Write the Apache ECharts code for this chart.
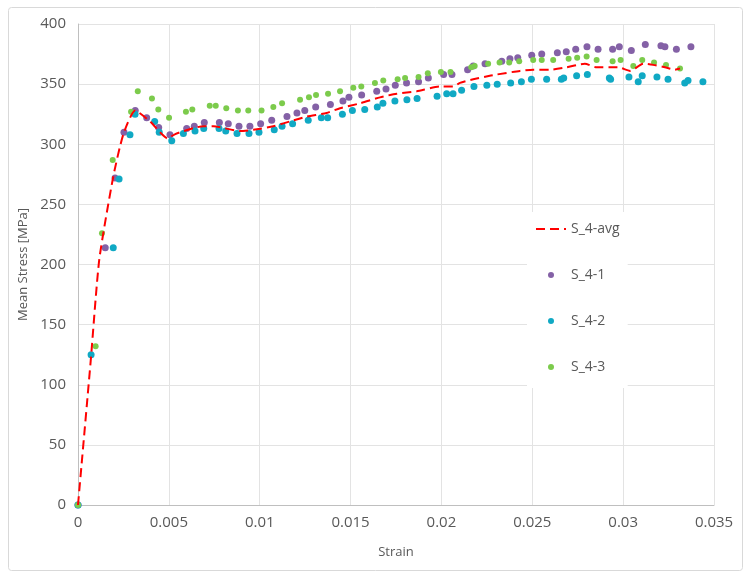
<!DOCTYPE html>
<html>
<head>
  <meta charset="utf-8">
  <title>Mean Stress vs Strain</title>
  <script src="https://cdn.jsdelivr.net/npm/echarts/dist/echarts.min.js"></script>
  <style>
    html, body { margin: 0; padding: 0; background: #fff; }
    #main { width: 751px; height: 579px; }
  </style>
</head>
<body>
<div id="main"></div>
<script>
  // [strain, mean stress MPa]
  const avgData = [
    [0, 0], [0.0007, 120], [0.00117, 204], [0.00194, 273], [0.00249, 308], [0.00315, 328],
    [0.00396, 319], [0.00451, 310], [0.00491, 305], [0.00543, 309], [0.0069, 315], [0.00745, 315],
    [0.00891, 311], [0.00965, 312], [0.01075, 315], [0.01167, 319], [0.01258, 323], [0.01368, 326],
    [0.01442, 330], [0.01552, 334], [0.01662, 339], [0.01754, 342], [0.01864, 344], [0.01992, 348],
    [0.02065, 348], [0.02102, 351], [0.02175, 354], [0.02266, 357], [0.02304, 358], [0.02432, 361],
    [0.02505, 362], [0.02597, 362], [0.02689, 364], [0.02789, 367], [0.02854, 364], [0.02928, 364],
    [0.02973, 364], [0.03038, 361], [0.03111, 367], [0.03166, 366], [0.0323, 364], [0.03285, 362],
    [0.03313, 363]
  ];

  const s1Data = [
    [0, 0], [0.0015, 214], [0.00204, 272], [0.00253, 310], [0.00315, 328], [0.00378, 322],
    [0.00444, 314], [0.00506, 308], [0.00598, 313], [0.0064, 315], [0.00695, 318], [0.00778, 318],
    [0.00827, 317], [0.00886, 315], [0.00946, 315], [0.01005, 317], [0.01066, 320], [0.0115, 323],
    [0.01205, 326], [0.01248, 328], [0.01308, 331], [0.01389, 333], [0.01458, 336], [0.01491, 339],
    [0.01561, 341], [0.01644, 344], [0.01695, 346], [0.01746, 349], [0.01808, 351], [0.01874, 352],
    [0.01928, 355], [0.02012, 358], [0.02058, 358], [0.02144, 362], [0.02175, 365], [0.0224, 367],
    [0.02332, 369], [0.02377, 371], [0.0242, 372], [0.02497, 374], [0.02552, 375], [0.02638, 376],
    [0.02687, 377], [0.02739, 379], [0.02801, 381], [0.02862, 379], [0.02942, 379], [0.02979, 381],
    [0.03045, 378], [0.03122, 383], [0.03208, 382], [0.0323, 381], [0.03293, 379], [0.03373, 381]
  ];

  const s2Data = [
    [0, 0], [0.00072, 125], [0.00194, 214], [0.00226, 271], [0.00286, 308], [0.00314, 325],
    [0.00422, 319], [0.00447, 310], [0.00516, 303], [0.0058, 309], [0.00644, 311], [0.00692, 313],
    [0.00776, 313], [0.00813, 311], [0.00875, 309], [0.00941, 309], [0.00996, 310], [0.0108, 312],
    [0.01123, 315], [0.01181, 317], [0.01267, 320], [0.01339, 322], [0.01374, 322], [0.01455, 325],
    [0.0151, 328], [0.01578, 329], [0.01647, 331], [0.01678, 334], [0.01744, 336], [0.0181, 337],
    [0.01866, 338], [0.01976, 340], [0.02029, 342], [0.02064, 342], [0.02111, 345], [0.02179, 348],
    [0.0225, 349], [0.02307, 350], [0.02381, 351], [0.0244, 352], [0.02495, 354], [0.02579, 354],
    [0.0266, 354], [0.02673, 355], [0.02744, 357], [0.02803, 358], [0.02924, 355], [0.02931, 354],
    [0.03032, 356], [0.03083, 352], [0.03105, 357], [0.03186, 356], [0.03247, 354], [0.03339, 351],
    [0.03357, 353], [0.03439, 352]
  ];

  const s3Data = [
    [0, 0], [0.00097, 132], [0.00132, 226], [0.00191, 287], [0.00292, 327], [0.00329, 344],
    [0.00407, 338], [0.00442, 329], [0.00501, 322], [0.00594, 327], [0.00629, 329], [0.00725, 332],
    [0.00758, 332], [0.00816, 330], [0.0088, 328], [0.00937, 328], [0.0101, 328], [0.01075, 331],
    [0.01123, 334], [0.01222, 337], [0.01271, 339], [0.0131, 341], [0.01376, 342], [0.01442, 344],
    [0.01515, 347], [0.01559, 348], [0.01634, 351], [0.0168, 353], [0.01759, 354], [0.018, 355],
    [0.01874, 356], [0.01925, 359], [0.01997, 360], [0.0205, 360], [0.02164, 364], [0.02183, 365],
    [0.02257, 367], [0.0232, 368], [0.02373, 368], [0.02428, 369], [0.02505, 370], [0.02552, 370],
    [0.02615, 370], [0.027, 371], [0.02747, 372], [0.02799, 373], [0.02854, 370], [0.02942, 369],
    [0.02986, 370], [0.03056, 365], [0.03105, 370], [0.0317, 368], [0.03236, 366], [0.03313, 363]
  ];

  const seriesNames = ['S_4-avg', 'S_4-1', 'S_4-2', 'S_4-3'];

  const font = '"Open Sans", "Noto Sans", sans-serif';
  const textGray = '#595959';
  const gridGray = '#e3e3e3';

  var myChart = echarts.init(document.getElementById('main'));

  var option = {
    animation: false,
    textStyle: { fontFamily: font },
    graphic: [
      {
        type: 'rect',
        shape: { x: 8.5, y: 7.5, width: 734, height: 563, r: 3 },
        style: { fill: 'none', stroke: '#d9d9d9', lineWidth: 1 },
        silent: true,
        z: -10
      }
    ],
    grid: { left: 78, right: 37, top: 24, bottom: 74 },
    legend: {
      data: [
        { name: seriesNames[0], itemStyle: { opacity: 0 } },
        seriesNames[1], seriesNames[2], seriesNames[3]
      ],
      orient: 'vertical',
      left: 527,
      top: 212,
      padding: [10, 8, 14, 8],
      itemGap: 32,
      itemWidth: 30,
      itemHeight: 6,
      backgroundColor: '#fff',
      textStyle: { color: textGray, fontSize: 14, fontFamily: font }
    },
    xAxis: {
      type: 'value',
      min: 0,
      max: 0.035,
      interval: 0.005,
      name: 'Strain',
      nameLocation: 'middle',
      nameGap: 41,
      nameTextStyle: { color: textGray, fontSize: 13 },
      axisLine: { show: true, onZero: true, lineStyle: { color: '#bfbfbf' } },
      axisTick: { show: false },
      axisLabel: { color: textGray, fontSize: 15, margin: 10 },
      splitLine: { show: true, lineStyle: { color: gridGray } }
    },
    yAxis: {
      type: 'value',
      min: 0,
      max: 400,
      interval: 50,
      name: 'Mean Stress [MPa]',
      nameLocation: 'middle',
      nameGap: 45,
      nameTextStyle: { color: textGray, fontSize: 13 },
      axisLine: { show: true, lineStyle: { color: '#bfbfbf' } },
      axisTick: { show: false },
      axisLabel: { color: textGray, fontSize: 15, margin: 12 },
      splitLine: { show: true, lineStyle: { color: gridGray } }
    },
    series: [
      {
        name: 'S_4-avg',
        type: 'line',
        data: avgData,
        symbol: 'none',
        smooth: 0.2,
        z: 5,
        lineStyle: { color: '#ff0000', width: 2, type: [9, 5] },
        itemStyle: { color: '#ff0000' }
      },
      {
        name: 'S_4-1',
        type: 'scatter',
        data: s1Data,
        symbolSize: 7,
        itemStyle: { color: '#8461a6', opacity: 1 }
      },
      {
        name: 'S_4-2',
        type: 'scatter',
        data: s2Data,
        symbolSize: 7,
        itemStyle: { color: '#10a9c4', opacity: 1 }
      },
      {
        name: 'S_4-3',
        type: 'scatter',
        data: s3Data,
        symbolSize: 6,
        itemStyle: { color: '#7ccb4c', opacity: 1 }
      }
    ]
  };

  myChart.setOption(option);
</script>
</body>
</html>
